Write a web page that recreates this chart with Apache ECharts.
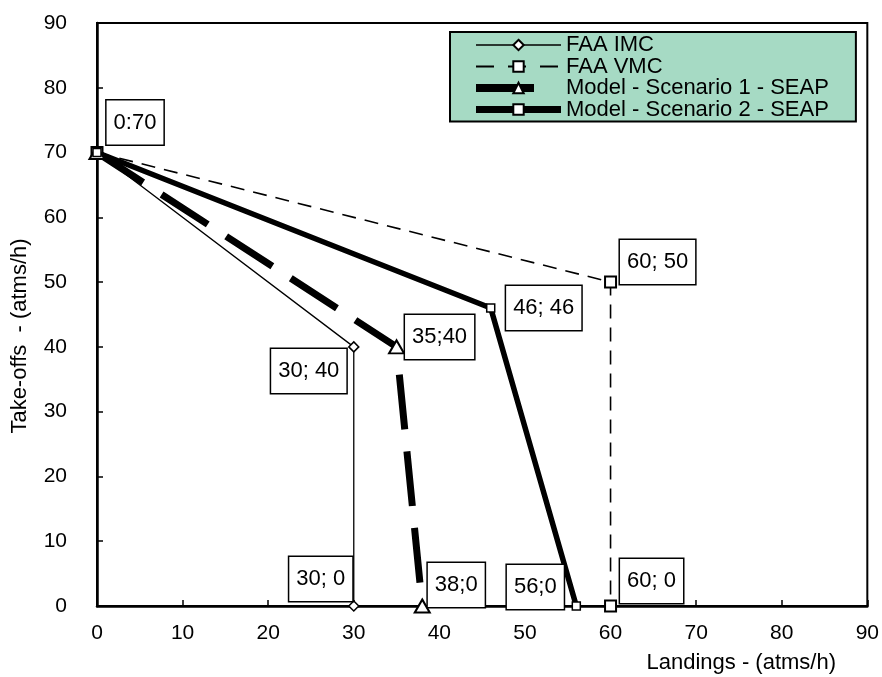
<!DOCTYPE html>
<html>
<head>
<meta charset="utf-8">
<script src="https://cdn.jsdelivr.net/npm/echarts@6/dist/echarts.min.js"></script>
<style>
  html, body { margin: 0; padding: 0; background: #fff; }
  #chart { width: 882px; height: 677px; }
</style>
</head>
<body>
<div id="chart"></div>
<script>
// Landing / take-off capacity envelopes (atms/h)
const seriesNames = ['FAA IMC', 'FAA VMC', 'Model - Scenario 1 - SEAP', 'Model - Scenario 2 - SEAP'];

const imcLandings = [0, 30, 30];
const imcTakeoffs = [70, 40, 0];
const imcLabels = ['0:70', '30; 40', '30; 0'];

const vmcLandings = [0, 60, 60];
const vmcTakeoffs = [70, 50, 0];
const vmcLabels = ['', '60; 50', '60; 0'];

const s1Landings = [0, 35, 38];
const s1Takeoffs = [70, 40, 0];
const s1Labels = ['', '35;40', '38;0'];

const s2Landings = [0, 46, 56];
const s2Takeoffs = [70, 46, 0];
const s2Labels = ['', '46; 46', '56;0'];

const axisTicks = [0, 10, 20, 30, 40, 50, 60, 70, 80, 90];

// label box placement relative to each point (pixels)
const imcLabelOffsets = [[38, -30], [-45, 24], [-33, -27]];
const vmcLabelOffsets = [[0, 0], [47, -20], [41, -25]];
const s1LabelOffsets = [[0, 0], [43, -10], [34, -21]];
const s2LabelOffsets = [[0, 0], [53, 0], [-41, -19]];

const FONT = "'Liberation Sans', Arial, sans-serif";

function buildData(xs, ys, labels, offsets) {
  return xs.map((x, i) => ({
    value: [x, ys[i]],
    label: labels[i] ? {
      show: true,
      formatter: labels[i],
      position: 'inside',
      offset: offsets[i]
    } : { show: false }
  }));
}

const labelStyle = {
  color: '#000',
  fontFamily: FONT,
  fontSize: 22,
  lineHeight: 22,
  backgroundColor: '#fff',
  borderColor: '#000',
  borderWidth: 1.5,
  padding: [11, 7, 11, 7]
};

const chart = echarts.init(document.getElementById('chart'), null, { renderer: 'canvas' });

chart.setOption({
  animation: false,
  backgroundColor: '#fff',
  grid: {
    left: 97, right: 14, top: 23, bottom: 71,
    show: true, borderColor: '#000', borderWidth: 2, backgroundColor: 'transparent'
  },
  xAxis: {
    type: 'value', min: axisTicks[0], max: axisTicks[axisTicks.length - 1], interval: 10,
    axisLine: { show: true, onZero: false, lineStyle: { color: '#000', width: 2.5 } },
    axisTick: { show: true, inside: true, length: 6, lineStyle: { color: '#000', width: 1.5 } },
    axisLabel: { color: '#000', fontFamily: FONT, fontSize: 21, margin: 17 },
    splitLine: { show: false }
  },
  yAxis: {
    type: 'value', min: axisTicks[0], max: axisTicks[axisTicks.length - 1], interval: 10,
    axisLine: { show: true, onZero: false, lineStyle: { color: '#000', width: 2.5 } },
    axisTick: { show: true, inside: true, length: 6, lineStyle: { color: '#000', width: 1.5 } },
    axisLabel: { color: '#000', fontFamily: FONT, fontSize: 21, margin: 30 },
    splitLine: { show: false }
  },
  legend: {
    orient: 'vertical',
    left: 450, top: 32,
    padding: [2, 27, 1, 22],
    itemGap: -0.5,
    itemWidth: 85,
    itemHeight: 13,
    backgroundColor: '#a6dac4',
    borderColor: '#000',
    borderWidth: 2,
    borderRadius: 0,
    textStyle: { color: '#000', fontFamily: FONT, fontSize: 22, lineHeight: 20 },
    data: [
      { name: seriesNames[0], lineStyle: { width: 1.3, type: 'solid' } },
      { name: seriesNames[1], lineStyle: { width: 1.8, type: [18, 14] } },
      { name: seriesNames[2], lineStyle: { width: 8, type: [58, 40] } },
      { name: seriesNames[3], lineStyle: { width: 7, type: 'solid' } }
    ]
  },
  graphic: [
    {
      type: 'text', x: 836, y: 663,
      style: { text: 'Landings - (atms/h)', fill: '#000', font: '22px ' + FONT, align: 'right', verticalAlign: 'middle' }
    },
    {
      type: 'text', x: 20, y: 336, rotation: Math.PI / 2,
      style: { text: 'Take-offs  - (atms/h)', fill: '#000', font: '22px ' + FONT, align: 'center', verticalAlign: 'middle' }
    }
  ],
  series: [
    {
      name: seriesNames[0], type: 'line',
      data: buildData(imcLandings, imcTakeoffs, imcLabels, imcLabelOffsets),
      symbol: 'diamond', symbolSize: 10,
      itemStyle: { color: '#fff', borderColor: '#000', borderWidth: 1.5 },
      lineStyle: { color: '#000', width: 1.3, type: 'solid' },
      label: labelStyle, z: 3
    },
    {
      name: seriesNames[1], type: 'line',
      data: buildData(vmcLandings, vmcTakeoffs, vmcLabels, vmcLabelOffsets),
      symbol: 'rect', symbolSize: 11,
      itemStyle: { color: '#fff', borderColor: '#000', borderWidth: 2 },
      lineStyle: { color: '#000', width: 1.6, type: [14, 9] },
      label: labelStyle, z: 3
    },
    {
      name: seriesNames[2], type: 'line',
      data: buildData(s1Landings, s1Takeoffs, s1Labels, s1LabelOffsets),
      symbol: 'triangle', symbolSize: [15, 13],
      itemStyle: { color: '#fff', borderColor: '#000', borderWidth: 2 },
      lineStyle: { color: '#000', width: 7, type: [55, 22] },
      label: labelStyle, z: 3
    },
    {
      name: seriesNames[3], type: 'line',
      data: buildData(s2Landings, s2Takeoffs, s2Labels, s2LabelOffsets),
      symbol: 'rect', symbolSize: 8,
      itemStyle: { color: '#fff', borderColor: '#000', borderWidth: 1.5 },
      lineStyle: { color: '#000', width: 5.5, type: 'solid' },
      label: labelStyle, z: 3
    }
  ]
});
</script>
</body>
</html>
